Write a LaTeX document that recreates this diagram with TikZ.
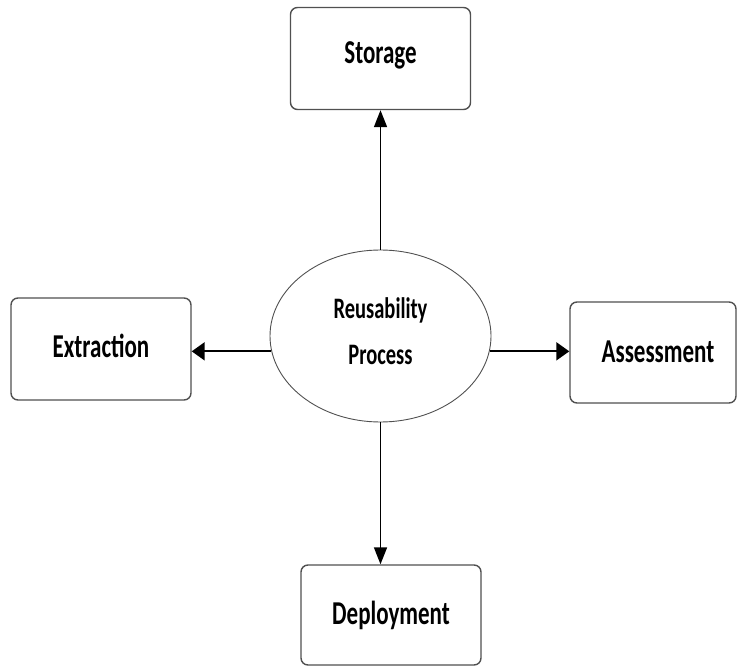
\documentclass[tikz,border=0pt]{standalone}
\usepackage{fontspec}
\setmainfont{Carlito}
\usetikzlibrary{arrows.meta,shapes.geometric}
\definecolor{boxGray}{HTML}{505050}
\newcommand{\tallText}[1]{\scalebox{1}[1.45]{#1}}

\begin{document}
\begin{tikzpicture}[x=1pt,y=1pt, font=\bfseries\fontsize{23}{27}\selectfont,
  box/.style={draw=boxGray,line width=1.4pt,rounded corners=7pt,fill=white,
    minimum width=180pt,minimum height=102pt,inner sep=0pt},
  proc/.style={ellipse,draw=boxGray,line width=0.9pt,minimum width=221pt,
    minimum height=172pt,inner sep=0pt,align=center,
    font=\bfseries\fontsize{20.5}{46}\selectfont},
  harr/.style={line width=1.9pt,-{Triangle[length=13pt,width=18pt]}},
  varr/.style={line width=1.6pt,-{Triangle[length=17pt,width=13pt]}}]
\useasboundingbox (0,0) rectangle (738,667);
% --- centre and the four steps ---
  \node[proc] (reuse) at (380.5,331) {\tallText{Reusability}\\\tallText{Process}\rule[-10pt]{0pt}{10pt}};
  \node[box] (store) at (380.5,608.5) {\raisebox{12pt}{\tallText{Storage}}};
  \node[box] (extr) at (101,318) {\raisebox{6pt}{\tallText{Extraction}}};
  \node[box,minimum width=166pt,minimum height=101pt] (assess) at (653,314.5) {\hspace*{10pt}\raisebox{2pt}{\tallText{Assessment}}};
  \node[box,minimum height=100pt] (deploy) at (391,52) {\tallText{Deployment}};
% --- connectors ---
  \draw[varr] (reuse.north) -- (store.south);
  \draw[varr] (reuse.south) -- (reuse.south |- deploy.north);
  \draw[harr] (reuse.188.4) -- (reuse.188.4 -| extr.east);
  \draw[harr] (reuse.-8.4) -- (reuse.-8.4 -| assess.west);
\end{tikzpicture}
\end{document}
